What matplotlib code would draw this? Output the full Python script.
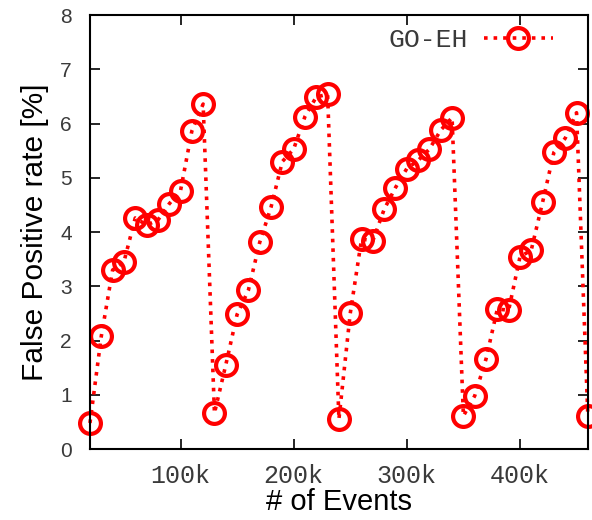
import matplotlib
matplotlib.use('Agg')
import matplotlib.pyplot as plt

# events in thousands, false positive rate in %
events_k = [20, 30, 40, 50, 60, 70, 80, 90, 100, 110, 120,
            130, 140, 150, 160, 170, 180, 190, 200, 210, 220, 230,
            240, 250, 260, 270, 280, 290, 300, 310, 320, 330, 340,
            350, 360, 370, 380, 390, 400, 410, 420, 430, 440, 450, 460]
fp_rate = [0.48, 2.08, 3.30, 3.45, 4.26, 4.13, 4.22, 4.52, 4.76, 5.86, 6.36,
           0.66, 1.55, 2.48, 2.93, 3.81, 4.46, 5.30, 5.53, 6.13, 6.49, 6.54,
           0.55, 2.50, 3.87, 3.84, 4.42, 4.82, 5.17, 5.32, 5.53, 5.88, 6.11,
           0.61, 0.98, 1.66, 2.58, 2.56, 3.54, 3.67, 4.55, 5.47, 5.73, 6.20, 0.60]
series_name = 'GO-EH'
xtick_vals = [100, 200, 300, 400]
xtick_labels = ['100k', '200k', '300k', '400k']

fig = plt.figure(figsize=(5.92, 5.2), dpi=100)
ax = fig.add_axes([0.152, 0.1365, 0.841, 0.8345])

ax.plot(events_k, fp_rate, color='#ff0000', linestyle=':', linewidth=2.6,
        marker='o', markersize=15, markerfacecolor='none',
        markeredgecolor='#ff0000', markeredgewidth=3,
        clip_on=False, label=series_name)

ax.set_xlim(20, 460)
ax.set_ylim(0, 8)
ax.set_xticks(xtick_vals)
ax.set_xticklabels(xtick_labels, family='Liberation Mono', fontsize=18, color='#3a3a3a')
ax.set_yticks(range(0, 9))
ax.set_yticklabels([str(v) for v in range(0, 9)], family='Liberation Sans',
                   fontsize=15, color='#3a3a3a')
ax.tick_params(direction='in', length=7, width=1.2, top=True, right=True)
ax.tick_params(axis='x', pad=11)
ax.tick_params(axis='y', pad=13)
for s in ax.spines.values():
    s.set_linewidth(1.5)

ax.set_xlabel('# of Events', family='Liberation Sans', fontsize=21, labelpad=0)
ax.set_ylabel('False Positive rate [%]', family='Liberation Sans', fontsize=21.5, labelpad=8)

leg = ax.legend(loc='upper right', bbox_to_anchor=(0.968, 1.012), frameon=False,
                markerfirst=False, handlelength=2.65,
                prop={'family': 'Liberation Mono', 'size': 19},
                borderaxespad=0.3, handletextpad=0.6)
for t in leg.get_texts():
    t.set_color('#3a3a3a')

fig.savefig('out.png', dpi=100)
